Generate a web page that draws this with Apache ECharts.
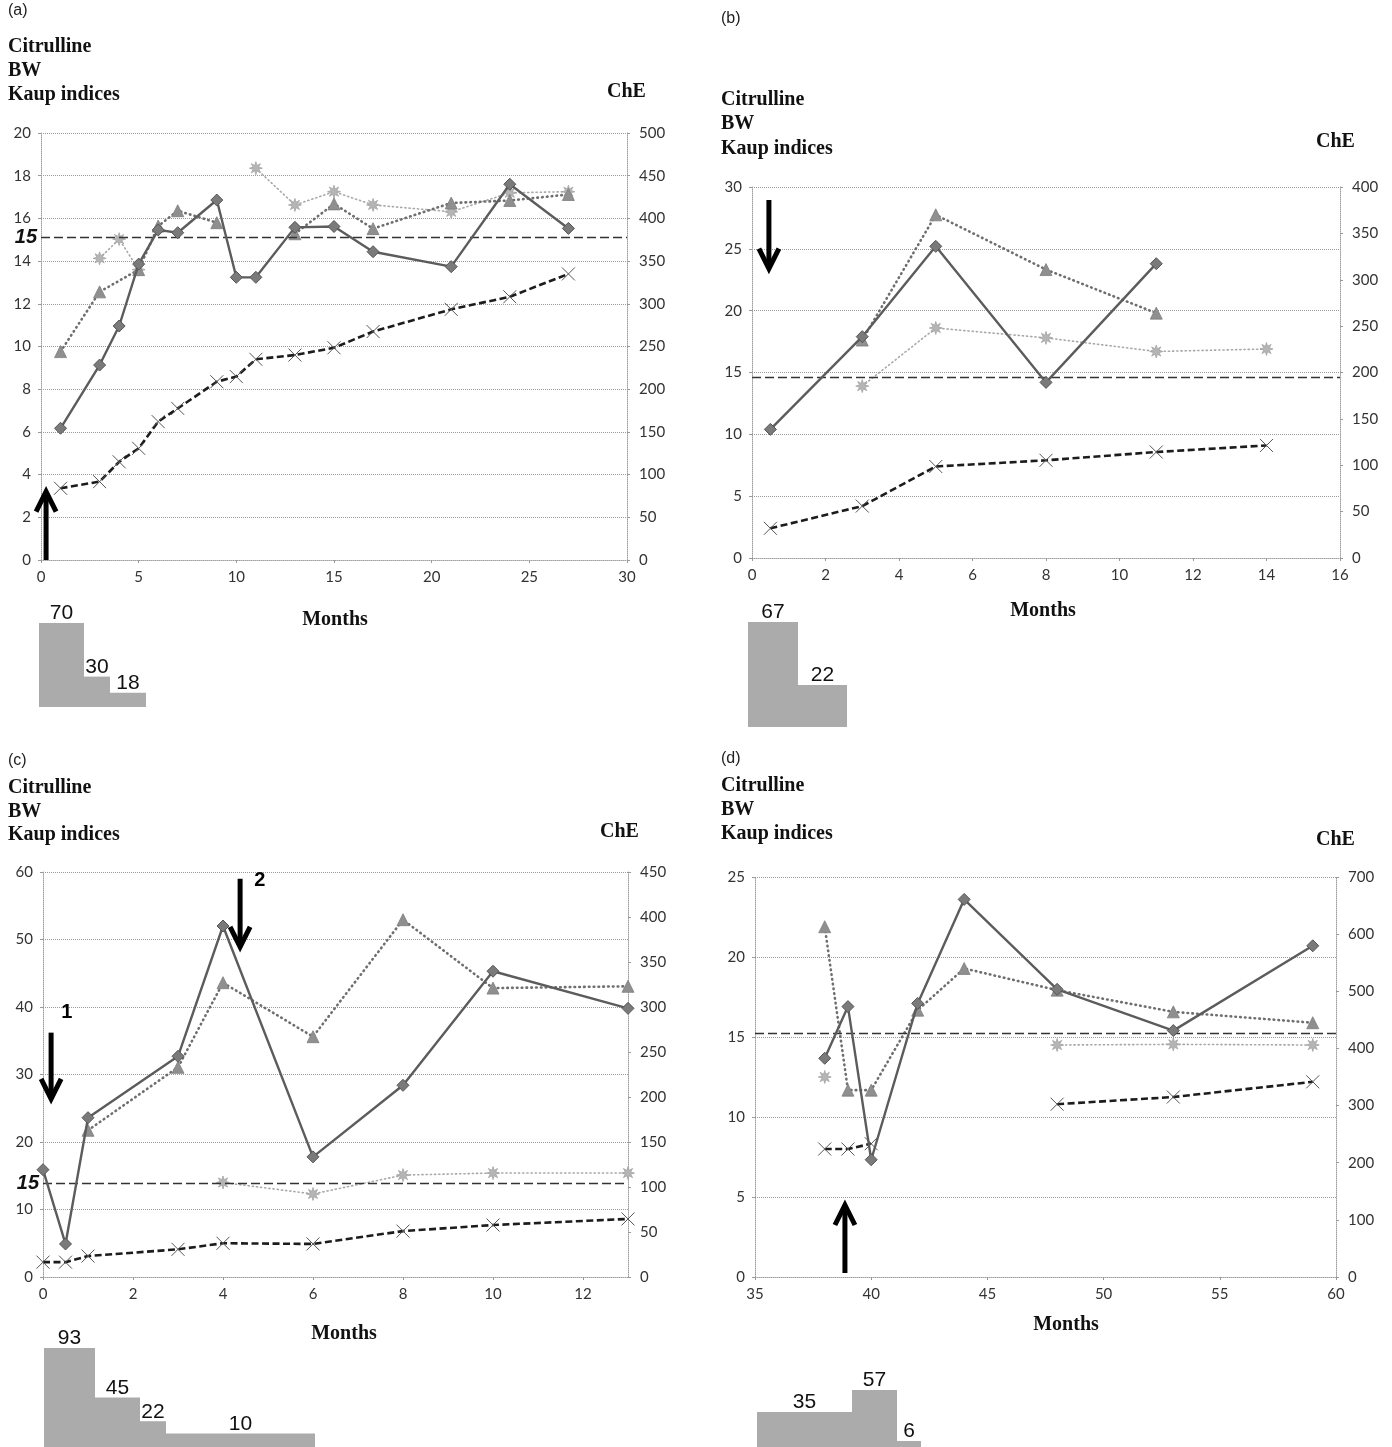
<!DOCTYPE html>
<html><head><meta charset="utf-8">
<script src="https://cdn.jsdelivr.net/npm/echarts@6/dist/echarts.min.js"></script>
<style>html,body{margin:0;padding:0;background:#fff}#c{width:1392px;height:1447px}</style>
</head><body><div id="c"></div>
<script>
// ---------- Panel (a) ----------
const monthsA = [1,3,4,5,6,7,9,10,11,13,15,17,21,24,27];
const citrullineA = [6.17,9.13,10.96,13.86,15.46,15.33,16.86,13.24,13.24,15.58,15.62,14.44,13.74,17.6,15.53];
const bwA = [3.36,3.67,4.6,5.23,6.48,7.1,8.35,8.59,9.4,9.6,9.94,10.7,11.74,12.33,13.4];
const kaupA = [null,14.13,15.03,13.6,null,null,null,null,18.35,16.63,17.25,16.63,16.31,17.2,17.25];
const cheMonthsA = [1,3,5,6,7,9,11,13,15,17,21,24,27];
const cheA = [244,314,340,391,409,395,null,382,417,388,418,421,428];
const refA = 15.1;
const arrowsA = [[0.26, 0, 3.2]];
const arrowLabelsA = [];
const stepValuesA = [70,30,18];
const stepWidthsA = [45,26,36];

// ---------- Panel (b) ----------
const monthsB = [0.5,3,5,8,11,14];
const citrullineB = [10.4,17.9,25.2,14.2,23.8,null];
const bwB = [2.4,4.2,7.4,7.9,8.57,9.1];
const kaupB = [null,13.9,18.6,17.8,16.7,16.9];
const cheB = [null,235,370,311,264,null];
const refB = 14.65;
const arrowsB = [[0.46, 28.95, 23.4]];
const arrowLabelsB = [];
const stepValuesB = [67,22];
const stepWidthsB = [50,49];

// ---------- Panel (c) ----------
const monthsC = [0,0.5,1,3,4,6,8,10,13];
const citrullineC = [15.9,4.9,23.6,32.7,52.0,17.8,28.4,45.3,39.8];
const bwC = [2.2,2.2,3.1,4.1,5.0,4.9,6.8,7.7,8.6];
const kaupC = [null,null,null,null,14.0,12.3,15.1,15.4,15.4];
const cheC = [null,null,163,233,327,267,397,321,323];
const refC = 13.9;
const arrowsC = [[0.18, 36.2, 26.4], [4.38, 59.0, 48.9]];
const arrowLabelsC = [['1', 0.53, 39.2], ['2', 4.82, 58.7]];
const stepValuesC = [93,45,22,10];
const stepWidthsC = [51,45,26,149];

// ---------- Panel (d) ----------
const monthsD = [38,39,40,42,44,48,53,59];
const citrullineD = [13.67,16.9,7.33,17.1,23.6,17.98,15.4,20.7];
const bwD = [8.0,8.0,8.33,null,null,10.8,11.25,12.2];
const kaupD = [12.5,null,null,null,null,14.5,14.54,14.5];
const cheD = [613,327,327,467,540,502,464,445];
const refD = 15.25;
const arrowsD = [[38.87, 0.25, 4.5]];
const arrowLabelsD = [];
const stepValuesD = [35,57,6];
const stepWidthsD = [95,45,24];

// ---------- layout / styles ----------
const panels = [
  {tag:'(a)', months:monthsA, cit:citrullineA, bw:bwA, kaup:kaupA, cheMonths:cheMonthsA, che:cheA, ref:refA, refLabel:'15',
   arrows:arrowsA, arrowLabels:arrowLabelsA, stepValues:stepValuesA, stepWidths:stepWidthsA,
   grid:{left:41,top:133,width:586,height:427}, x:{min:0,max:30,interval:5}, yl:{min:0,max:20,interval:2}, yr:{min:0,max:500,interval:50},
   stepGrid:{left:39,top:623,height:84}, stepY:{min:7.3,max:70},
   titles:{x:8, tag:12, lines:[48,72,96], che:[607,93], months:[335,620]}},
  {tag:'(b)', months:monthsB, cit:citrullineB, bw:bwB, kaup:kaupB, cheMonths:monthsB, che:cheB, ref:refB, refLabel:'',
   arrows:arrowsB, arrowLabels:arrowLabelsB, stepValues:stepValuesB, stepWidths:stepWidthsB,
   grid:{left:752,top:187,width:588,height:371}, x:{min:0,max:16,interval:2}, yl:{min:0,max:30,interval:5}, yr:{min:0,max:400,interval:50},
   stepGrid:{left:748,top:622,height:105}, stepY:{min:-8,max:67},
   titles:{x:721, tag:20, lines:[101,125,150], che:[1316,143], months:[1043,611]}},
  {tag:'(c)', months:monthsC, cit:citrullineC, bw:bwC, kaup:kaupC, cheMonths:monthsC, che:cheC, ref:refC, refLabel:'15',
   arrows:arrowsC, arrowLabels:arrowLabelsC, stepValues:stepValuesC, stepWidths:stepWidthsC,
   grid:{left:43,top:872,width:585,height:405}, x:{min:0,max:13,interval:2}, yl:{min:0,max:60,interval:10}, yr:{min:0,max:450,interval:50},
   stepGrid:{left:44,top:1348,height:99}, stepY:{min:-3,max:93},
   titles:{x:8, tag:762, lines:[789,813,836], che:[600,833], months:[344,1334]}},
  {tag:'(d)', months:monthsD, cit:citrullineD, bw:bwD, kaup:kaupD, cheMonths:monthsD, che:cheD, ref:refD, refLabel:'',
   arrows:arrowsD, arrowLabels:arrowLabelsD, stepValues:stepValuesD, stepWidths:stepWidthsD,
   grid:{left:755,top:877,width:581,height:400}, x:{min:35,max:60,interval:5}, yl:{min:0,max:25,interval:5}, yr:{min:0,max:700,interval:100},
   stepGrid:{left:757,top:1390,height:57}, stepY:{min:0,max:57},
   titles:{x:721, tag:760, lines:[787,811,835], che:[1316,841], months:[1066,1325]}}
];

const STAR = 'path://M10,0 L11.72,5.84 L17.07,2.93 L14.16,8.28 L20,10 L14.16,11.72 L17.07,17.07 L11.72,14.16 L10,20 L8.28,14.16 L2.93,17.07 L5.84,11.72 L0,10 L5.84,8.28 L2.93,2.93 L8.28,5.84 Z';
const XMARK = 'path://M0,0 L10,10 M10,0 L0,10';
const tickFont = {fontFamily:'Lato, "Open Sans", sans-serif', fontSize:15, color:'#333'};
const axisLineStyle = {color:'#a0a0a0', type:'dotted', width:1};

const pair = (xs, ys) => xs.map((x, i) => [x, ys[i] == null ? '-' : ys[i]]);

const grids = [], xAxes = [], yAxes = [], series = [], graphics = [];

panels.forEach((p, i) => {
  const gm = grids.length;
  grids.push(Object.assign({containLabel:false}, p.grid));
  const xm = xAxes.length;
  xAxes.push({type:'value', gridIndex:gm, min:p.x.min, max:p.x.max, interval:p.x.interval,
    axisLine:{show:true, onZero:false, lineStyle:axisLineStyle},
    axisTick:{show:true, length:3, lineStyle:{color:'#999'}},
    splitLine:{show:false},
    axisLabel:Object.assign({margin:10, showMaxLabel: i !== 2}, tickFont)});
  const yl = yAxes.length;
  yAxes.push({type:'value', gridIndex:gm, position:'left', min:p.yl.min, max:p.yl.max, interval:p.yl.interval,
    axisLine:{show:true, onZero:false, lineStyle:axisLineStyle},
    axisTick:{show:true, length:3, lineStyle:{color:'#999'}},
    splitLine:{show:true, lineStyle:{color:'#9a9a9a', type:'dotted', width:1}},
    axisLabel:Object.assign({margin:10}, tickFont)});
  const yr = yAxes.length;
  yAxes.push({type:'value', gridIndex:gm, position:'right', min:p.yr.min, max:p.yr.max, interval:p.yr.interval,
    axisLine:{show:true, onZero:false, lineStyle:axisLineStyle},
    axisTick:{show:true, length:3, lineStyle:{color:'#999'}},
    splitLine:{show:false},
    axisLabel:Object.assign({margin:12}, tickFont)});

  // Kaup indices (light gray, star markers, fine dotted)
  series.push({type:'line', name:'Kaup indices', xAxisIndex:xm, yAxisIndex:yl, data:pair(p.months, p.kaup),
    symbol:STAR, symbolSize:13, connectNulls:false, animation:false,
    lineStyle:{color:'#a8a8a8', width:1.6, type:[1.2,3], cap:'round'},
    itemStyle:{color:'#b5b5b5', borderColor:'#a5a5a5', borderWidth:0.8},
    markLine:{silent:true, symbol:['none','none'], animation:false,
      lineStyle:{color:'#333', type:[9,4], width:1.3},
      label:{show:!!p.refLabel, position:'start', formatter:p.refLabel || ' ', distance:4,
        fontFamily:'"Liberation Sans", Arial, sans-serif', fontSize:20, fontWeight:'bold', fontStyle:'italic', color:'#111'},
      data:[{yAxis:p.ref}]}
  });
  // ChE (triangles, right axis, dotted)
  series.push({type:'line', name:'ChE', xAxisIndex:xm, yAxisIndex:yr, data:pair(p.cheMonths, p.che),
    symbol:'triangle', symbolSize:12, connectNulls:false, animation:false,
    lineStyle:{color:'#6e6e6e', width:2.6, type:[0.6,4.2], cap:'round'},
    itemStyle:{color:'#8f8f8f', borderColor:'#7d7d7d', borderWidth:0.8}});
  // BW (black dashed, X markers)
  series.push({type:'line', name:'BW', xAxisIndex:xm, yAxisIndex:yl, data:pair(p.months, p.bw),
    symbol:XMARK, symbolSize:13, connectNulls:false, animation:false,
    lineStyle:{color:'#1c1c1c', width:2.6, type:[7,3.5]},
    itemStyle:{color:'transparent', borderColor:'#555', borderWidth:1}});
  // Citrulline (solid, diamonds)
  series.push({type:'line', name:'Citrulline', xAxisIndex:xm, yAxisIndex:yl, data:pair(p.months, p.cit),
    symbol:'diamond', symbolSize:12, connectNulls:false, animation:false,
    lineStyle:{color:'#5c5c5c', width:2.4},
    itemStyle:{color:'#7a7a7a', borderColor:'#555', borderWidth:1}, z:5});
  // arrows
  const labels = p.arrowLabels;
  series.push({type:'custom', xAxisIndex:xm, yAxisIndex:yl, data:p.arrows, animation:false, z:6, clip:false,
    renderItem:(params, api) => {
      const x = api.value(0), y0 = api.value(1), y1 = api.value(2);
      const a = api.coord([x, y0]), b = api.coord([x, y1]);
      const dir = b[1] > a[1] ? 1 : -1;
      const hw = 10, hh = 20;
      const kids = [
        {type:'line', shape:{x1:a[0], y1:a[1], x2:b[0], y2:b[1] - dir*3}, style:{stroke:'#000', lineWidth:5}},
        {type:'polyline', shape:{points:[[b[0]-hw, b[1]-dir*hh],[b[0], b[1]],[b[0]+hw, b[1]-dir*hh]]},
          style:{stroke:'#000', lineWidth:5, fill:null, lineJoin:'miter'}}
      ];
      const lab = labels[params.dataIndex];
      if (lab) {
        const lp = api.coord([lab[1], lab[2]]);
        kids.push({type:'text', style:{text:lab[0], x:lp[0], y:lp[1], textAlign:'center', textVerticalAlign:'middle',
          font:'bold 20px "Liberation Sans", Arial, sans-serif', fill:'#000'}});
      }
      return {type:'group', children:kids};
    }});

  // step blocks
  const gs = grids.length;
  const total = p.stepWidths.reduce((s, v) => s + v, 0);
  grids.push({left:p.stepGrid.left, top:p.stepGrid.top, width:total, height:p.stepGrid.height});
  const xs = xAxes.length;
  xAxes.push({type:'value', gridIndex:gs, min:0, max:total, show:false});
  const ys = yAxes.length;
  yAxes.push({type:'value', gridIndex:gs, min:p.stepY.min, max:p.stepY.max, show:false});
  let acc = 0;
  const blocks = p.stepValues.map((v, k) => { const s = acc; acc += p.stepWidths[k]; return [s, acc, v]; });
  const ymin = p.stepY.min;
  series.push({type:'custom', xAxisIndex:xs, yAxisIndex:ys, data:blocks, animation:false, clip:false,
    renderItem:(params, api) => {
      const s = api.value(0), e = api.value(1), v = api.value(2);
      const tl = api.coord([s, v]), br = api.coord([e, ymin]);
      return {type:'group', children:[
        {type:'rect', shape:{x:tl[0], y:tl[1], width:br[0]-tl[0], height:br[1]-tl[1]}, style:{fill:'#ababab'}},
        {type:'text', style:{text:String(v), x:(tl[0]+br[0])/2, y:tl[1]+1, textAlign:'center', textVerticalAlign:'bottom',
          font:'21px "Liberation Sans Narrow", "Liberation Sans", Arial, sans-serif', fill:'#111'}}
      ]};
    }});

  // texts
  const t = p.titles;
  const serif = 'bold 20px "Liberation Serif", "Times New Roman", serif';
  graphics.push({type:'text', left:t.x, top:t.tag-9, style:{text:p.tag, font:'16px "Liberation Sans", Arial, sans-serif', fill:'#222'}});
  ['Citrulline','BW','Kaup indices'].forEach((s, k) => {
    graphics.push({type:'text', left:t.x, top:t.lines[k]-11, style:{text:s, font:serif, fill:'#111'}});
  });
  graphics.push({type:'text', left:t.che[0], top:t.che[1]-11, style:{text:'ChE', font:serif, fill:'#111'}});
  graphics.push({type:'text', x:t.months[0], y:t.months[1], style:{text:'Months', font:serif, fill:'#111', textAlign:'center', textVerticalAlign:'middle'}});
});

const chart = echarts.init(document.getElementById('c'), null, {renderer:'canvas'});
chart.setOption({backgroundColor:'#fff', animation:false, grid:grids, xAxis:xAxes, yAxis:yAxes, series:series, graphic:graphics});
</script></body></html>
